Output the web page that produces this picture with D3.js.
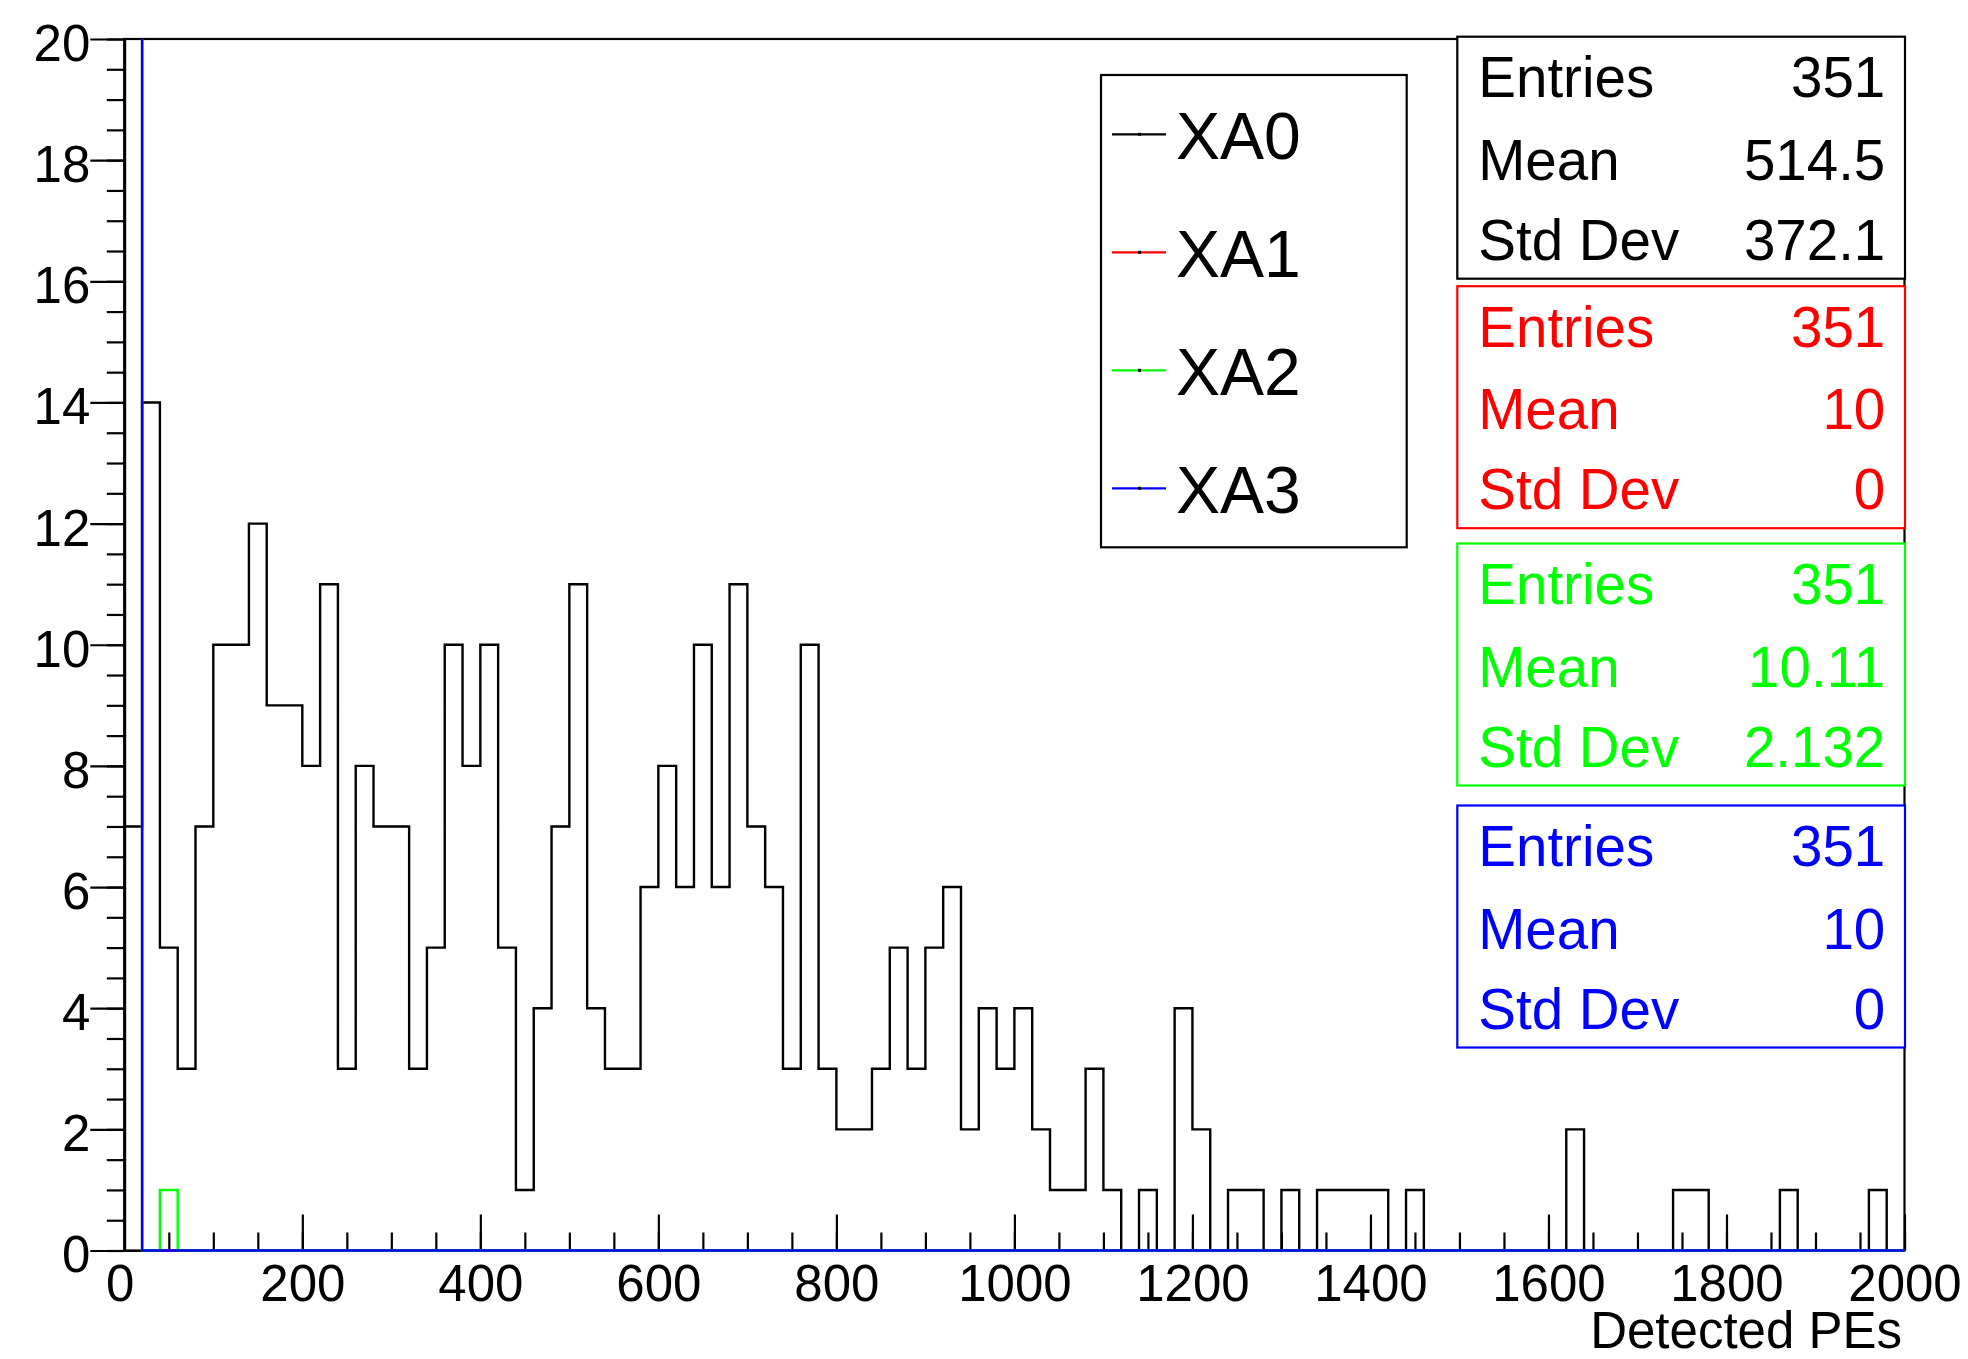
<!DOCTYPE html>
<html>
<head>
<meta charset="utf-8">
<script src="https://cdn.jsdelivr.net/npm/d3@7"></script>
<style>
  body { margin: 0; background: #fff; }
  svg { display: block; font-family: "Liberation Sans", Arial, Helvetica, sans-serif; }
</style>
</head>
<body>
<svg id="chart"></svg>
<script>
// histogram binning: 100 bins of 20 PEs between 0 and 2000
const xRange = [0, 2000];
const binWidth = 20;

const xTickLabels = [0, 200, 400, 600, 800, 1000, 1200, 1400, 1600, 1800, 2000];
const yTickLabels = [0, 2, 4, 6, 8, 10, 12, 14, 16, 18, 20];

const seriesNames = ["XA0", "XA1", "XA2", "XA3"];
const seriesColors = ["#000000", "#ff0000", "#00ff00", "#0000ff"];

const xa0Counts = [
  7, 14, 5, 3, 7, 10, 10, 12, 9, 9,
  8, 11, 3, 8, 7, 7, 3, 5, 10, 8,
  10, 5, 1, 4, 7, 11, 4, 3, 3, 6,
  8, 6, 10, 6, 11, 7, 6, 3, 10, 3,
  2, 2, 3, 5, 3, 5, 6, 2, 4, 3,
  4, 2, 1, 1, 3, 1, 0, 1, 0, 4,
  2, 0, 1, 1, 0, 1, 0, 1, 1, 1,
  1, 0, 1, 0, 0, 0, 0, 0, 0, 0,
  0, 2, 0, 0, 0, 0, 0, 1, 1, 0,
  0, 0, 0, 1, 0, 0, 0, 0, 1, 0
];
const xa1Counts = [
  351, 0, 0, 0, 0, 0, 0, 0, 0, 0,
  0, 0, 0, 0, 0, 0, 0, 0, 0, 0,
  0, 0, 0, 0, 0, 0, 0, 0, 0, 0,
  0, 0, 0, 0, 0, 0, 0, 0, 0, 0,
  0, 0, 0, 0, 0, 0, 0, 0, 0, 0,
  0, 0, 0, 0, 0, 0, 0, 0, 0, 0,
  0, 0, 0, 0, 0, 0, 0, 0, 0, 0,
  0, 0, 0, 0, 0, 0, 0, 0, 0, 0,
  0, 0, 0, 0, 0, 0, 0, 0, 0, 0,
  0, 0, 0, 0, 0, 0, 0, 0, 0, 0
];
const xa2Counts = [
  350, 0, 1, 0, 0, 0, 0, 0, 0, 0,
  0, 0, 0, 0, 0, 0, 0, 0, 0, 0,
  0, 0, 0, 0, 0, 0, 0, 0, 0, 0,
  0, 0, 0, 0, 0, 0, 0, 0, 0, 0,
  0, 0, 0, 0, 0, 0, 0, 0, 0, 0,
  0, 0, 0, 0, 0, 0, 0, 0, 0, 0,
  0, 0, 0, 0, 0, 0, 0, 0, 0, 0,
  0, 0, 0, 0, 0, 0, 0, 0, 0, 0,
  0, 0, 0, 0, 0, 0, 0, 0, 0, 0,
  0, 0, 0, 0, 0, 0, 0, 0, 0, 0
];
const xa3Counts = [
  351, 0, 0, 0, 0, 0, 0, 0, 0, 0,
  0, 0, 0, 0, 0, 0, 0, 0, 0, 0,
  0, 0, 0, 0, 0, 0, 0, 0, 0, 0,
  0, 0, 0, 0, 0, 0, 0, 0, 0, 0,
  0, 0, 0, 0, 0, 0, 0, 0, 0, 0,
  0, 0, 0, 0, 0, 0, 0, 0, 0, 0,
  0, 0, 0, 0, 0, 0, 0, 0, 0, 0,
  0, 0, 0, 0, 0, 0, 0, 0, 0, 0,
  0, 0, 0, 0, 0, 0, 0, 0, 0, 0,
  0, 0, 0, 0, 0, 0, 0, 0, 0, 0
];

const statEntries = ["351", "351", "351", "351"];
const statMeans = ["514.5", "10", "10.11", "10"];
const statStdDevs = ["372.1", "0", "2.132", "0"];

class RootHistogramChart {
  constructor(_config, _series) {
    this.config = {
      parentElement: _config.parentElement,
      containerWidth: _config.containerWidth || 1968,
      containerHeight: _config.containerHeight || 1359,
      frame: _config.frame || { left: 124.3, right: 1904.5, top: 39, bottom: 1250.5 },
      tickFont: _config.tickFont || 51,
      statFont: _config.statFont || 56.5,
      legendFont: _config.legendFont || 66,
      lineWidth: _config.lineWidth || 2.4,
    };
    this.series = _series;
    this.initVis();
  }

  initVis() {
    let vis = this;
    const f = vis.config.frame;

    vis.svg = d3.select(vis.config.parentElement)
      .attr("width", vis.config.containerWidth)
      .attr("height", vis.config.containerHeight);

    vis.x = d3.scaleLinear().domain(xRange).range([f.left, f.right]);
    vis.y = d3.scaleLinear().domain([0, 20]).range([f.bottom, f.top]);

    vis.svg.append("clipPath").attr("id", "frameClip")
      .append("rect")
      .attr("x", f.left - 2).attr("y", f.top)
      .attr("width", f.right - f.left + 4)
      .attr("height", f.bottom - f.top + 2);
  }

  renderVis() {
    const vis = this;
    const f = vis.config.frame;
    const fs = vis.config.tickFont;
    const lw = vis.config.lineWidth;

    // frame
    vis.svg.append("rect")
      .attr("x", f.left).attr("y", f.top)
      .attr("width", f.right - f.left).attr("height", f.bottom - f.top)
      .attr("fill", "none").attr("stroke", "#000").attr("stroke-width", 2.2);

    // x axis: ticks point into the frame
    const xAxisG = vis.svg.append("g").attr("transform", `translate(0,${f.bottom})`);
    xAxisG.append("g")
      .call(d3.axisBottom(vis.x).ticks(40).tickSize(-18).tickSizeOuter(0).tickFormat(""))
      .call(g => g.select(".domain").remove());
    xAxisG.append("g")
      .call(d3.axisBottom(vis.x).tickValues(xTickLabels).tickSize(-36).tickSizeOuter(0).tickPadding(14).tickFormat(d3.format("d")));
    xAxisG.selectAll("g").attr("font-size", null).attr("font-family", null);
    xAxisG.selectAll("line, path").attr("stroke", "#000").attr("stroke-width", 2.2);
    xAxisG.selectAll("text").attr("fill", "#000").style("font-size", fs + "px");
    // ROOT nudges the "0" label slightly left of its tick
    xAxisG.selectAll("text").filter(d => d === 0).attr("dx", -4.5);

    // histograms, drawn as step outlines
    const line = d3.line().x(d => vis.x(d[0])).y(d => vis.y(d[1]));
    const stepPoints = counts => {
      const pts = [[xRange[0], 0]];
      counts.forEach((c, i) => {
        pts.push([i * binWidth, c]);
        pts.push([(i + 1) * binWidth, c]);
      });
      pts.push([xRange[1], 0]);
      return pts;
    };

    vis.svg.append("g").attr("clip-path", "url(#frameClip)")
      .selectAll("path")
      .data(vis.series)
      .join("path")
      .attr("d", d => line(stepPoints(d.counts)))
      .attr("fill", "none")
      .attr("stroke", d => d.color)
      .attr("stroke-width", lw)
      .attr("stroke-linejoin", "miter");

    // y axis: ticks point outward
    const yAxisG = vis.svg.append("g").attr("transform", `translate(${f.left},0)`);
    yAxisG.append("g")
      .call(d3.axisLeft(vis.y).ticks(40).tickSize(17.5).tickSizeOuter(0).tickFormat(""))
      .call(g => g.select(".domain").remove());
    yAxisG.append("g")
      .call(d3.axisLeft(vis.y).tickValues(yTickLabels).tickSize(34).tickSizeOuter(0).tickPadding(0).tickFormat(d3.format("d")));
    yAxisG.selectAll("g").attr("font-size", null).attr("font-family", null);
    yAxisG.selectAll("line, path").attr("stroke", "#000").attr("stroke-width", 2.2);
    yAxisG.select(".domain").attr("stroke-width", 2.8);
    yAxisG.selectAll("text").attr("fill", "#000").attr("dy", "0.42em").style("font-size", fs + "px");

    // x axis title
    vis.svg.append("text")
      .attr("x", 1902).attr("y", 1348)
      .attr("text-anchor", "end")
      .style("font-size", fs + "px")
      .text("Detected PEs");

    // legend
    const legend = vis.svg.append("g");
    legend.append("rect")
      .attr("x", 1101).attr("y", 75).attr("width", 305.7).attr("height", 472.3)
      .attr("fill", "#fff").attr("stroke", "#000").attr("stroke-width", 2.2);
    const legendY = d3.scalePoint().domain(seriesNames).range([134.3, 488.3]);
    const rows = legend.selectAll("g.row").data(vis.series).join("g").attr("class", "row")
      .attr("transform", d => `translate(0,${legendY(d.name)})`);
    rows.append("line")
      .attr("x1", 1112).attr("x2", 1166)
      .attr("stroke", d => d.color).attr("stroke-width", 2.2);
    rows.append("rect")
      .attr("x", 1138).attr("y", -1.5).attr("width", 3).attr("height", 3).attr("fill", "#000");
    rows.append("text")
      .attr("x", 1176).attr("y", 24.7)
      .style("font-size", vis.config.legendFont + "px")
      .text(d => d.name);

    // stat boxes
    const boxTop = d3.scaleOrdinal().domain(seriesNames).range([36.7, 286.2, 543.5, 805.5]);
    const boxes = vis.svg.selectAll("g.stats").data(vis.series).join("g").attr("class", "stats")
      .attr("transform", d => `translate(1457.3,${boxTop(d.name)})`);
    boxes.append("rect")
      .attr("width", 447.7).attr("height", 242)
      .attr("fill", "#fff").attr("stroke", d => d.color).attr("stroke-width", 2.2);
    const statRows = ["Entries", "Mean", "Std Dev"];
    const rowY = d3.scaleOrdinal().domain(statRows).range([60.5, 143, 223]);
    statRows.forEach(label => {
      boxes.append("text")
        .attr("x", 21).attr("y", rowY(label))
        .attr("fill", d => d.color)
        .style("font-size", vis.config.statFont + "px")
        .text(label);
      boxes.append("text")
        .attr("x", 428).attr("y", rowY(label))
        .attr("text-anchor", "end")
        .attr("fill", d => d.color)
        .style("font-size", vis.config.statFont + "px")
        .text(d => d.stats[label]);
    });
  }
}

const allCounts = [xa0Counts, xa1Counts, xa2Counts, xa3Counts];
const series = seriesNames.map((name, i) => ({
  name: name,
  color: seriesColors[i],
  counts: allCounts[i],
  stats: { "Entries": statEntries[i], "Mean": statMeans[i], "Std Dev": statStdDevs[i] }
}));

const chart = new RootHistogramChart({ parentElement: "#chart" }, series);
chart.renderVis();
</script>
</body>
</html>
